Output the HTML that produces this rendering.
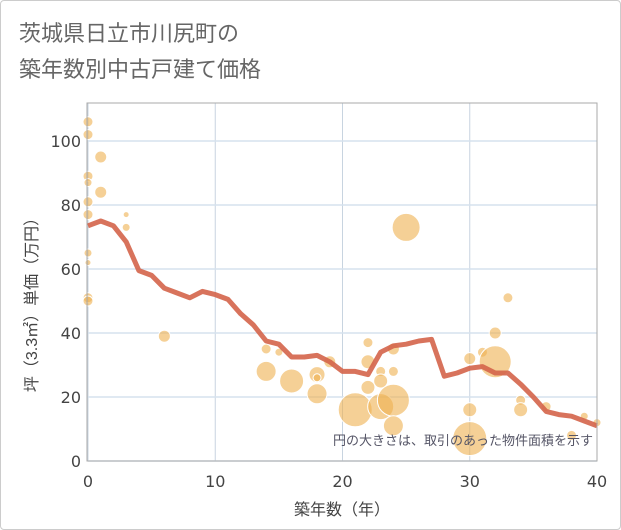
<!DOCTYPE html><html><head><meta charset="utf-8"><style>
body{margin:0;background:#fff;font-family:"Liberation Sans","Noto Sans CJK JP",sans-serif}
#wrap{position:relative;width:621px;height:530px;box-sizing:border-box;border:1px solid #ccc;border-radius:4px;overflow:hidden}
.tk{font-family:"DejaVu Sans",sans-serif}
</style></head><body><div id="wrap">
<svg id="c" width="621" height="530" xmlns="http://www.w3.org/2000/svg">
<text x="18" y="40" font-size="22" fill="#666">茨城県日立市川尻町の</text>
<text x="18" y="76" font-size="22" fill="#666">築年数別中古戸建て価格</text>
<g id="grid"></g><g id="bub"></g><g id="ln"></g><g id="ax"></g>
<text x="592" y="444" font-size="13" fill="#556" text-anchor="end">円の大きさは、取引のあった物件面積を示す</text>
<text x="341" y="514" font-size="16" fill="#444" text-anchor="middle">築年数（年）</text>
<text transform="translate(36,300) rotate(-90)" font-size="16" fill="#444" text-anchor="middle">坪（3.3㎡）単価（万円）</text>
</svg></div>
<script>
const xTicks=[0,10,20,30,40];
const yTicks=[0,20,40,60,80,100];
const lineYears=[0,1,2,3,4,5,6,7,8,9,10,11,12,13,14,15,16,17,18,19,20,21,22,23,24,25,26,27,28,29,30,31,32,33,34,35,36,37,38,39,40];
const lineValues=[73.5,75,73.5,68.5,59.5,58,54,52.5,51,53,52,50.5,46,42.5,37.5,36.5,32.5,32.5,33,31,28,28,27,34,36,36.5,37.5,38,26.5,27.5,29,29.5,27.5,27.5,24,20,15.5,14.5,14,12.5,11];
const bubYears=[0,0,1,0,0,1,0,0,3,3,0,0,0,0,6,14,15,14,16,18,18,18,19,22,22,23,22,23,21,23,24,24,25,24,24,30,30,31,30,32,32,33,34,34,36,39,38,40];
const bubValues=[106,102,95,89,87,84,81,77,77,73,65,62,51,50,39,35,34,28,25,27,26,21,31,37,31,28,23,25,16,17,19,11,73,35,28,7,16,34,32,40,31,51,19,16,17,14,8,12];
const bubSizes=[5,5,6,5,4,6,5,5,3,4,4,3,5,5,6,5,4,10,12,8,4,10,6,5,7,5,7,7,17,13,16,10,14,6,5,17,7,5,6,6,16,5,5,7,5,4,5,4];
const X=v=>87+v*(596-87)/40, Y=v=>460-v*3.2;
const NS="http://www.w3.org/2000/svg";
function mk(t,a,p){const e=document.createElementNS(NS,t);for(const k in a)e.setAttribute(k,a[k]);p.appendChild(e);return e;}
const g=document.getElementById('grid'),ax=document.getElementById('ax');
xTicks.forEach(t=>{const l=mk('line',{x1:X(t),x2:X(t),y1:102,y2:460,stroke:'#c8d4e0','stroke-width':1},g);

const tx=mk('text',{x:X(t),y:486,'font-size':16,fill:'#444','text-anchor':'middle',class:'tk'},ax);tx.textContent=t;
});
yTicks.forEach(t=>{const l=mk('line',{x1:87,x2:596,y1:Y(t),y2:Y(t),stroke:'#d6e2ee','stroke-width':1.5},g);

const tx=mk('text',{x:80,y:Y(t)+6,'font-size':16,fill:'#444','text-anchor':'end',class:'tk'},ax);tx.textContent=t;
});
const fr=mk('rect',{x:86,y:102,width:510,height:358,fill:'none',stroke:'#aaa','stroke-width':1},ax);

const b=document.getElementById('bub');
bubYears.forEach((yr,i)=>{const c=mk('circle',{cx:X(yr),cy:Y(bubValues[i]),r:bubSizes[i],fill:'#efb150','fill-opacity':0.6,stroke:'#fff','stroke-width':1},b);
});
const p=mk('polyline',{points:lineYears.map((yr,i)=>X(yr)+','+Y(lineValues[i])).join(' '),fill:'none',stroke:'#d4644a','stroke-width':5,'stroke-linejoin':'round','stroke-opacity':0.9},document.getElementById('ln'));

</script></body></html>
